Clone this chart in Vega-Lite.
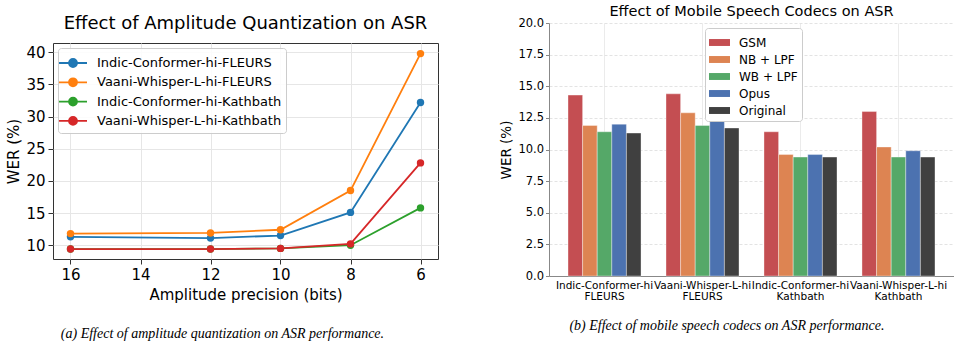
{
  "$schema": "https://vega.github.io/schema/vega-lite/v6.json",
  "background": "white",
  "padding": {"left": 6, "top": 4, "right": 5, "bottom": 4},
  "spacing": 60,
  "bounds": "full",
  "resolve": {"legend": {"color": "independent", "fill": "independent"}},
  "config": {
    "font": "DejaVu Sans",
    "title": {"fontWeight": "normal", "color": "#000"},
    "axis": {"labelColor": "#000", "titleColor": "#000", "titleFontWeight": "normal"}
  },
  "datasets": {
    "quant": [
      {"model": "Indic-Conformer-hi-FLEURS", "bits": 16, "wer": 11.3},
      {"model": "Indic-Conformer-hi-FLEURS", "bits": 12, "wer": 11.1},
      {"model": "Indic-Conformer-hi-FLEURS", "bits": 10, "wer": 11.5},
      {"model": "Indic-Conformer-hi-FLEURS", "bits": 8, "wer": 15.1},
      {"model": "Indic-Conformer-hi-FLEURS", "bits": 6, "wer": 32.2},
      {"model": "Vaani-Whisper-L-hi-FLEURS", "bits": 16, "wer": 11.8},
      {"model": "Vaani-Whisper-L-hi-FLEURS", "bits": 12, "wer": 11.9},
      {"model": "Vaani-Whisper-L-hi-FLEURS", "bits": 10, "wer": 12.4},
      {"model": "Vaani-Whisper-L-hi-FLEURS", "bits": 8, "wer": 18.5},
      {"model": "Vaani-Whisper-L-hi-FLEURS", "bits": 6, "wer": 39.8},
      {"model": "Indic-Conformer-hi-Kathbath", "bits": 16, "wer": 9.4},
      {"model": "Indic-Conformer-hi-Kathbath", "bits": 12, "wer": 9.4},
      {"model": "Indic-Conformer-hi-Kathbath", "bits": 10, "wer": 9.5},
      {"model": "Indic-Conformer-hi-Kathbath", "bits": 8, "wer": 10.0},
      {"model": "Indic-Conformer-hi-Kathbath", "bits": 6, "wer": 15.8},
      {"model": "Vaani-Whisper-L-hi-Kathbath", "bits": 16, "wer": 9.4},
      {"model": "Vaani-Whisper-L-hi-Kathbath", "bits": 12, "wer": 9.4},
      {"model": "Vaani-Whisper-L-hi-Kathbath", "bits": 10, "wer": 9.5},
      {"model": "Vaani-Whisper-L-hi-Kathbath", "bits": 8, "wer": 10.2},
      {"model": "Vaani-Whisper-L-hi-Kathbath", "bits": 6, "wer": 22.8}
    ],
    "codec": [
      {"group": "Indic-Conformer-hi FLEURS", "codec": "GSM", "wer": 14.3},
      {"group": "Indic-Conformer-hi FLEURS", "codec": "NB + LPF", "wer": 11.9},
      {"group": "Indic-Conformer-hi FLEURS", "codec": "WB + LPF", "wer": 11.4},
      {"group": "Indic-Conformer-hi FLEURS", "codec": "Opus", "wer": 12.0},
      {"group": "Indic-Conformer-hi FLEURS", "codec": "Original", "wer": 11.3},
      {"group": "Vaani-Whisper-L-hi FLEURS", "codec": "GSM", "wer": 14.4},
      {"group": "Vaani-Whisper-L-hi FLEURS", "codec": "NB + LPF", "wer": 12.9},
      {"group": "Vaani-Whisper-L-hi FLEURS", "codec": "WB + LPF", "wer": 11.9},
      {"group": "Vaani-Whisper-L-hi FLEURS", "codec": "Opus", "wer": 12.5},
      {"group": "Vaani-Whisper-L-hi FLEURS", "codec": "Original", "wer": 11.7},
      {"group": "Indic-Conformer-hi Kathbath", "codec": "GSM", "wer": 11.4},
      {"group": "Indic-Conformer-hi Kathbath", "codec": "NB + LPF", "wer": 9.6},
      {"group": "Indic-Conformer-hi Kathbath", "codec": "WB + LPF", "wer": 9.4},
      {"group": "Indic-Conformer-hi Kathbath", "codec": "Opus", "wer": 9.6},
      {"group": "Indic-Conformer-hi Kathbath", "codec": "Original", "wer": 9.4},
      {"group": "Vaani-Whisper-L-hi Kathbath", "codec": "GSM", "wer": 13.0},
      {"group": "Vaani-Whisper-L-hi Kathbath", "codec": "NB + LPF", "wer": 10.2},
      {"group": "Vaani-Whisper-L-hi Kathbath", "codec": "WB + LPF", "wer": 9.4},
      {"group": "Vaani-Whisper-L-hi Kathbath", "codec": "Opus", "wer": 9.9},
      {"group": "Vaani-Whisper-L-hi Kathbath", "codec": "Original", "wer": 9.4}
    ],
    "empty": []
  },
  "hconcat": [
    {
      "title": {"text": "(a) Effect of amplitude quantization on ASR performance.", "orient": "bottom", "font": "Liberation Serif", "fontStyle": "italic", "fontSize": 14, "offset": 24, "anchor": "middle"},
      "resolve": {"legend": {"color": "independent"}},
      "spacing": -20,
      "vconcat": [
        {
          "width": 385,
          "height": 0,
          "view": {"stroke": null},
          "title": {"text": "Effect of Amplitude Quantization on ASR", "orient": "top", "fontSize": 18, "frame": "group", "offset": -9.5},
          "data": {"name": "empty"},
          "mark": "point"
        },
        {
          "width": 385,
          "height": 216,
          "view": {"stroke": "#333", "strokeWidth": 1},
          "data": {"name": "quant"},
          "encoding": {
            "x": {"field": "bits", "type": "quantitative", "title": "Amplitude precision (bits)",
              "scale": {"domain": [16.5, 5.5], "nice": false, "zero": false},
              "axis": {"values": [16, 14, 12, 10, 8, 6], "labelFontSize": 15, "titleFontSize": 15, "tickSize": 5, "tickColor": "#333", "domain": false, "gridColor": "#e6e6e6", "labelPadding": 3, "titlePadding": 5}},
            "y": {"field": "wer", "type": "quantitative", "title": "WER (%)",
              "scale": {"domain": [7.85, 41.45], "nice": false, "zero": false},
              "axis": {"values": [10, 15, 20, 25, 30, 35, 40], "labelFontSize": 15, "titleFontSize": 15, "tickSize": 5, "tickColor": "#333", "domain": false, "gridColor": "#e6e6e6", "labelPadding": 3, "titlePadding": 4}},
            "color": {"field": "model", "type": "nominal",
              "scale": {"domain": ["Indic-Conformer-hi-FLEURS", "Vaani-Whisper-L-hi-FLEURS", "Indic-Conformer-hi-Kathbath", "Vaani-Whisper-L-hi-Kathbath"], "range": ["#1f77b4", "#ff7f0e", "#2ca02c", "#d62728"]},
              "legend": {"title": null, "orient": "top-left", "offset": 5, "labelFontSize": 13, "labelColor": "#000", "labelLimit": 0,
                "symbolType": "M -1.4 0 L 1.4 0 M 0.4 0 A 0.4 0.4 0 1 1 -0.4 0 A 0.4 0.4 0 1 1 0.4 0 Z",
                "symbolSize": 400, "symbolStrokeWidth": 1.8, "labelOffset": 13, "rowPadding": 0.3, "padding": 4,
                "fillColor": "rgba(255,255,255,0.85)", "strokeColor": "#cccccc", "cornerRadius": 3,
                "encode": {"symbols": {"update": {"fill": {"scale": "color", "field": "value"}, "stroke": {"scale": "color", "field": "value"}, "opacity": {"value": 1}}}}}}
          },
          "layer": [
            {"mark": {"type": "line", "strokeWidth": 1.8}},
            {"mark": {"type": "point", "filled": true, "size": 55, "opacity": 1}}
          ]
        }
      ]
    },
    {
      "title": {"text": "(b) Effect of mobile speech codecs on ASR performance.", "orient": "bottom", "font": "Liberation Serif", "fontStyle": "italic", "fontSize": 14, "offset": 17, "anchor": "middle"},
      "resolve": {"legend": {"fill": "independent"}},
      "vconcat": [
        {
          "width": 405,
          "height": 253,
          "view": {"stroke": null},
          "title": {"text": "Effect of Mobile Speech Codecs on ASR", "fontSize": 14.5, "frame": "group", "offset": -2.5},
          "data": {"name": "codec"},
          "mark": {"type": "bar", "stroke": "white", "strokeWidth": 0.6, "strokeOpacity": 0.6},
          "encoding": {
            "x": {"field": "group", "type": "nominal", "title": null,
              "sort": ["Indic-Conformer-hi FLEURS", "Vaani-Whisper-L-hi FLEURS", "Indic-Conformer-hi Kathbath", "Vaani-Whisper-L-hi Kathbath"],
              "scale": {"paddingInner": 0.255, "paddingOuter": 0.194},
              "axis": {"labelExpr": "split(datum.value, ' ')", "labelAngle": 0, "labelFontSize": 10.5, "labelLineHeight": 11.5, "ticks": false, "labelPadding": 4, "domainColor": "#888", "grid": true, "gridColor": "#ebebeb", "bandPosition": 0.5}},
            "xOffset": {"field": "codec", "type": "nominal", "sort": ["GSM", "NB + LPF", "WB + LPF", "Opus", "Original"], "scale": {"paddingInner": 0, "paddingOuter": 0}},
            "y": {"field": "wer", "type": "quantitative", "title": "WER (%)",
              "scale": {"domain": [0, 20], "nice": false},
              "axis": {"values": [0, 2.5, 5, 7.5, 10, 12.5, 15, 17.5, 20], "format": ".1f", "labelFontSize": 11.5, "titleFontSize": 13.5, "tickSize": 3.5, "tickColor": "#888", "domainColor": "#888", "gridColor": "#e3e3e3", "gridDash": [3, 2], "labelPadding": 2, "titlePadding": 4}},
            "fill": {"field": "codec", "type": "nominal",
              "scale": {"domain": ["GSM", "NB + LPF", "WB + LPF", "Opus", "Original"], "range": ["#c44e52", "#dd8452", "#55a868", "#4c72b0", "#404040"]},
              "legend": {"title": null, "orient": "none", "legendX": 156, "legendY": 5, "labelFontSize": 12, "labelColor": "#000", "labelLimit": 0,
                "symbolType": "M -1 -0.33 H 1 V 0.33 H -1 Z", "symbolSize": 440, "symbolStrokeWidth": 0, "labelOffset": 9, "rowPadding": 0, "padding": 4,
                "fillColor": "white", "strokeColor": "#cccccc", "cornerRadius": 3}}
          }
        }
      ]
    }
  ]
}
